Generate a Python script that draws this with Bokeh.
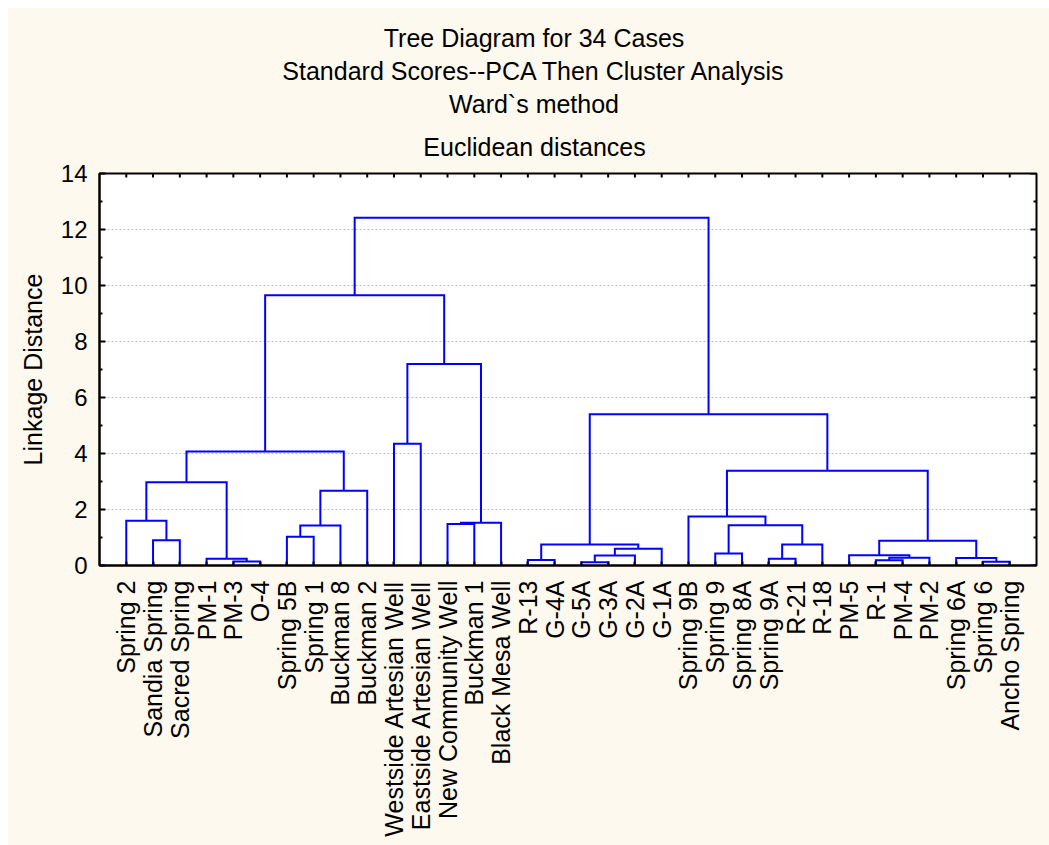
import math
from bokeh.plotting import figure
from bokeh.layouts import column, row
from bokeh.models import LinearAxis, FixedTicker, Range1d, Grid, Title, Spacer
from bokeh.embed import file_html
from bokeh.resources import INLINE

# ---------------- data ----------------
leaf_labels = [
    "Spring 2", "Sandia Spring", "Sacred Spring", "PM-1", "PM-3", "O-4",
    "Spring 5B", "Spring 1", "Buckman 8", "Buckman 2",
    "Westside Artesian Well", "Eastside Artesian Well", "New Community Well",
    "Buckman 1", "Black Mesa Well", "R-13", "G-4A", "G-5A", "G-3A", "G-2A",
    "G-1A", "Spring 9B", "Spring 9", "Spring 8A", "Spring 9A", "R-21", "R-18",
    "PM-5", "R-1", "PM-4", "PM-2", "Spring 6A", "Spring 6", "Ancho Spring",
]
# children: index < 34 is a leaf, index >= 34 is merge (index - 34)
merge_a = [1, 0, 4, 3, 35, 6, 39, 40, 38, 10, 12, 44, 43, 42,
           15, 17, 49, 50, 48, 22, 24, 54, 53, 21, 28, 58, 27, 32, 31, 60, 57, 52, 47]
merge_b = [2, 34, 5, 36, 37, 7, 8, 9, 41, 11, 13, 14, 45, 46,
           16, 18, 19, 20, 51, 23, 25, 26, 55, 56, 29, 30, 59, 33, 61, 62, 63, 64, 65]
merge_height = [0.90, 1.60, 0.14, 0.24, 2.97, 1.03, 1.43, 2.67, 4.07, 4.35, 1.48, 1.53, 7.20, 9.65,
                0.20, 0.12, 0.36, 0.60, 0.75, 0.43, 0.24, 0.75, 1.44, 1.75, 0.19, 0.28, 0.37,
                0.13, 0.27, 0.88, 3.38, 5.40, 12.42]

title_lines = ["Tree Diagram for 34 Cases",
               "Standard Scores--PCA Then Cluster Analysis",
               "Ward`s method",
               "Euclidean distances"]
y_ticks = [0, 2, 4, 6, 8, 10, 12, 14]
y_minor = [1, 3, 5, 7, 9, 11, 13]

# ---------------- dendrogram geometry ----------------
n = len(leaf_labels)
pos = {i: i + 1 for i in range(n)}
hgt = {i: 0.0 for i in range(n)}
xs, ys = [], []
for k, (a, b, h) in enumerate(zip(merge_a, merge_b, merge_height)):
    xa, ha = pos[a], hgt[a]
    xb, hb = pos[b], hgt[b]
    xs.append([xa, xa, xb, xb])
    ys.append([ha, h, h, hb])
    pos[n + k] = (xa + xb) / 2.0
    hgt[n + k] = h

FONT = "Liberation Sans"
FS = "24px"
TFS = 25
BG = "#FEF9EE"

W, H = 1042, 838
ML, MR, MT, MB = 92, 13, 166, 280
x_max = n + 1
y_max = 14
frame_w = W - ML - MR
frame_h = H - MT - MB

p = figure(width=W, height=H,
           x_range=Range1d(0, x_max), y_range=Range1d(0, y_max),
           x_axis_type=None, y_axis_type=None,
           output_backend="svg", toolbar_location=None,
           min_border_left=ML, min_border_right=MR,
           min_border_top=MT, min_border_bottom=MB,
           background_fill_color="white", border_fill_color=BG)
p.title.text = ""
p.outline_line_color = "black"
p.outline_line_width = 2

# grid
p.add_layout(Grid(dimension=1, ticker=FixedTicker(ticks=[2, 4, 6, 8, 10, 12]),
                  grid_line_color="#bdbdbd", grid_line_dash="2 2", grid_line_width=1))

p.multi_line(xs, ys, line_color="#0000FF", line_width=2, line_join="miter")

leaf_ticks = list(range(1, n + 1))

# mirrored inward ticks on top and right edges (pixel lengths converted to data units)
tick_top = 4 * y_max / frame_h
p.segment(x0=leaf_ticks, y0=[y_max] * n, x1=leaf_ticks, y1=[y_max - tick_top] * n,
          line_color="black", line_width=2)
maj_r = 6 * x_max / frame_w
min_r = 3 * x_max / frame_w
p.segment(x0=[x_max] * len(y_ticks), y0=y_ticks, x1=[x_max - maj_r] * len(y_ticks), y1=y_ticks,
          line_color="black", line_width=2)
p.segment(x0=[x_max] * len(y_minor), y0=y_minor, x1=[x_max - min_r] * len(y_minor), y1=y_minor,
          line_color="black", line_width=2)

def style(ax):
    ax.axis_line_color = "black"
    ax.axis_line_width = 2
    ax.major_tick_line_color = "black"
    ax.major_tick_line_width = 2
    ax.minor_tick_line_color = "black"
    ax.minor_tick_line_width = 2
    ax.major_label_text_font = FONT
    ax.major_label_text_font_size = FS
    ax.major_label_text_color = "black"

# bottom
bx = LinearAxis(ticker=FixedTicker(ticks=leaf_ticks, minor_ticks=[]),
                major_label_overrides={i + 1: lab for i, lab in enumerate(leaf_labels)})
style(bx)
bx.major_label_text_font_size = "25px"
bx.major_tick_in = 4
bx.major_tick_out = 0
bx.major_label_orientation = math.pi / 2
bx.major_label_standoff = 15
p.add_layout(bx, "below")

# left
lx = LinearAxis(ticker=FixedTicker(ticks=y_ticks, minor_ticks=y_minor),
                axis_label="Linkage Distance")
style(lx)
lx.major_tick_in = 6
lx.major_tick_out = 0
lx.minor_tick_in = 3
lx.minor_tick_out = 0
lx.major_label_standoff = 12
lx.axis_label_text_font = FONT
lx.axis_label_text_font_size = "25px"
lx.axis_label_text_font_style = "normal"
lx.axis_label_text_color = "black"
lx.axis_label_standoff = 11
p.add_layout(lx, "left")

# approximate Arial advance widths (per 1000 em) to centre each title line on the page
ADV = {"T": 611, "r": 333, "e": 556, " ": 278, "D": 722, "i": 222, "a": 556, "g": 556,
       "m": 833, "f": 278, "o": 556, "3": 556, "4": 556, "C": 722, "s": 500, "S": 667,
       "t": 278, "n": 556, "d": 556, "c": 500, "-": 333, "P": 667, "A": 667, "h": 556,
       "l": 222, "u": 556, "y": 500, "W": 944, "`": 333, "E": 667}
title_center_page = 534
frame_left_page = 7 + ML
# title spacing (standoff of each stacked title panel), from the frame upward
title_standoffs = [26, 0, 6, 0]

# titles: first added sits closest to the frame
for txt, so in zip(reversed(title_lines), title_standoffs):
    width = sum(ADV.get(ch, 556) for ch in txt) * TFS / 1000.0
    off = title_center_page - frame_left_page - width / 2.0
    p.add_layout(Title(text=txt, align="left", offset=off,
                       text_font=FONT, text_font_size=f"{TFS}px",
                       text_font_style="normal", text_color="black",
                       standoff=so), "above")

layout = column(Spacer(height=7, width=W + 7),
                row(Spacer(width=7, height=H), p))

open("out.html", "w").write(file_html(layout, INLINE))
